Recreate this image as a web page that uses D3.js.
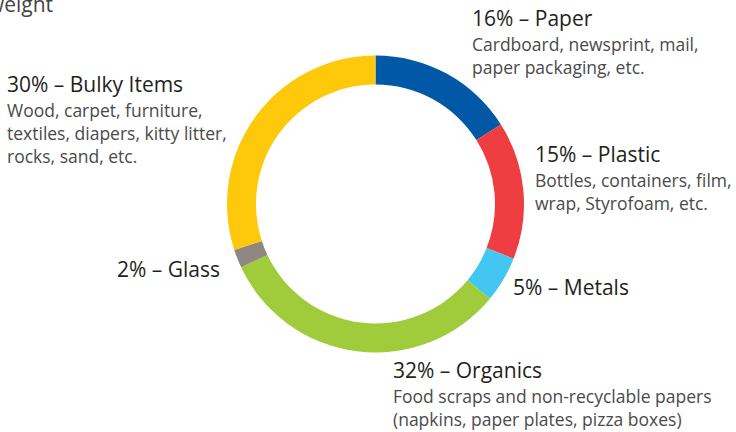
<!DOCTYPE html>
<html lang="en">
<head>
    <meta charset="UTF-8">
    <title>Waste composition donut</title>
    <style>
        body { margin: 0; background: #fff; }
        svg { display: block; }
        .title { font-family: 'Open Sans', sans-serif; font-size: 21px; fill: #231f20; }
        .desc { font-family: 'Open Sans', sans-serif; font-size: 17.5px; fill: #4a4a4a; }
    </style>
</head>
<body>
<div id="chart"></div>
<script src="https://cdnjs.cloudflare.com/ajax/libs/d3/7.8.5/d3.min.js"></script>
<script>
    // data, clockwise from 12 o'clock
    var categories = ['Paper', 'Plastic', 'Metals', 'Organics', 'Glass', 'Bulky Items'];
    var percents = [16, 15, 5, 32, 2, 30];
    var colors = ['#0058a6', '#ef3e42', '#43c7f2', '#a0cb3b', '#8e8782', '#ffc90b'];
    var descriptions = [
        ['Cardboard, newsprint, mail,', 'paper packaging, etc.'],
        ['Bottles, containers, film,', 'wrap, Styrofoam, etc.'],
        [],
        ['Food scraps and non-recyclable papers', '(napkins, paper plates, pizza boxes)'],
        [],
        ['Wood, carpet, furniture,', 'textiles, diapers, kitty litter,', 'rocks, sand, etc.']
    ];

    // where each label block sits (title baseline)
    var labelPos = [[472, 26], [535, 162], [513, 295], [393, 378], [117, 277], [7, 92]];

    var width = 736, height = 432;
    var cx = 375.5, cy = 204, outerR = 148.5, innerR = 119.5;

    var svg = d3.select('#chart').append('svg')
        .attr('width', width)
        .attr('height', height);

    // cut-off heading text at the top-left corner (it is cut in the original too)
    svg.append('text')
        .attr('class', 'title')
        .attr('x', 53)
        .attr('y', 12)
        .attr('text-anchor', 'end')
        .style('fill', '#444')
        .text('weight');

    var pie = d3.pie().sort(null).value(function (d) { return d; });
    var arc = d3.arc().innerRadius(innerR).outerRadius(outerR);

    svg.append('g')
        .attr('transform', 'translate(' + cx + ',' + cy + ')')
        .selectAll('path')
        .data(pie(percents))
        .enter()
        .append('path')
        .attr('d', arc)
        .style('fill', function (d, i) { return colors[i]; });

    var labels = svg.selectAll('g.label')
        .data(categories)
        .enter()
        .append('g')
        .attr('class', 'label')
        .attr('transform', function (d, i) {
            return 'translate(' + labelPos[i][0] + ',' + labelPos[i][1] + ')';
        });

    labels.append('text')
        .attr('class', 'title')
        .text(function (d, i) { return percents[i] + '% \u2013 ' + d; });

    labels.each(function (d, i) {
        d3.select(this).selectAll('text.desc')
            .data(descriptions[i])
            .enter()
            .append('text')
            .attr('class', 'desc')
            .attr('y', function (t, j) { return 24.5 + j * 23.3; })
            .text(function (t) { return t; });
    });
</script>
</body>
</html>
